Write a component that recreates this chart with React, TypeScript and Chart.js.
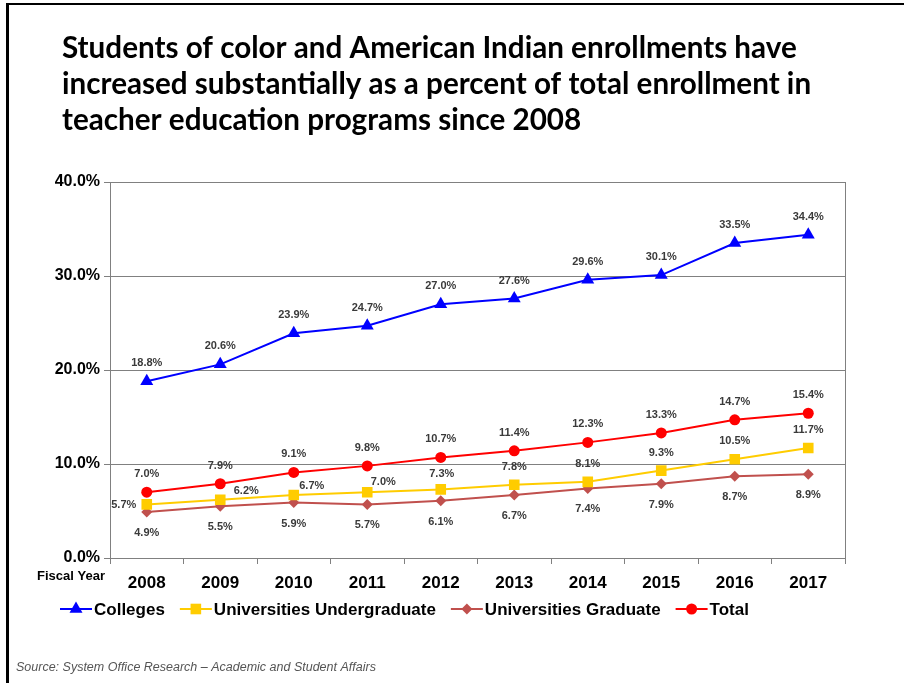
import React, { useEffect, useRef } from "react";
import { Chart, registerables } from "chart.js";

Chart.register(...registerables);

const years = ["2008", "2009", "2010", "2011", "2012", "2013", "2014", "2015", "2016", "2017"];
const colleges = [18.8, 20.6, 23.9, 24.7, 27.0, 27.6, 29.6, 30.1, 33.5, 34.4];
const univUndergrad = [5.7, 6.2, 6.7, 7.0, 7.3, 7.8, 8.1, 9.3, 10.5, 11.7];
const univGrad = [4.9, 5.5, 5.9, 5.7, 6.1, 6.7, 7.4, 7.9, 8.7, 8.9];
const total = [7.0, 7.9, 9.1, 9.8, 10.7, 11.4, 12.3, 13.3, 14.7, 15.4];

const titleLines = [
  "Students of color and American Indian enrollments have",
  "increased substantially as a percent of total enrollment in",
  "teacher education programs since 2008",
];
const sourceText = "Source: System Office Research \u2013 Academic and Student Affairs";
const axisTitle = "Fiscal Year";

// label placement style per series (dx, dy relative to point)
const placeAbove = (n: number) => Array.from({ length: n }, () => [0, -18]);
const placeBelow = (n: number) => Array.from({ length: n }, () => [0, 21]);
const uuPlacement = [[-23, 1], [26, -9], [18, -9], [16, -10], [1, -15], [0, -18], [0, -18], [0, -18], [0, -18], [0, -18]];

const BLUE = "#0000ff";
const YELLOW = "#ffcc00";
const BROWN = "#c0504d";
const RED = "#ff0000";

const LABEL_FONT = 'bold 11px "Liberation Sans", Arial, sans-serif';

function drawMarker(ctx: CanvasRenderingContext2D, style: string, x: number, y: number, r: number) {
  ctx.beginPath();
  if (style === "triangle") {
    ctx.moveTo(x, y - r);
    ctx.lineTo(x + r * 0.866, y + r * 0.5);
    ctx.lineTo(x - r * 0.866, y + r * 0.5);
  } else if (style === "rect") {
    const s = r * Math.SQRT1_2;
    ctx.rect(x - s, y - s, 2 * s, 2 * s);
  } else if (style === "rectRot") {
    ctx.moveTo(x, y - r);
    ctx.lineTo(x + r, y);
    ctx.lineTo(x, y + r);
    ctx.lineTo(x - r, y);
  } else {
    ctx.arc(x, y, r, 0, Math.PI * 2);
  }
  ctx.closePath();
  ctx.fill();
}

const decorPlugin = {
  id: "decor",
  beforeDraw(chart: any) {
    const ctx = chart.ctx;
    ctx.save();
    ctx.fillStyle = "#ffffff";
    ctx.fillRect(0, 0, chart.width, chart.height);
    // frame
    ctx.fillStyle = "#000000";
    ctx.fillRect(6, 3, chart.width - 6, 2);
    ctx.fillRect(6, 3, 3, chart.height - 3);
    // title
    ctx.fillStyle = "#000000";
    ctx.textBaseline = "alphabetic";
    ctx.textAlign = "left";
    let size = 28;
    ctx.font = `bold ${size}px Lato, "Open Sans", sans-serif`;
    const w = ctx.measureText(titleLines[0]).width;
    size = size * 735 / w;
    ctx.font = `bold ${size}px Lato, "Open Sans", sans-serif`;
    titleLines.forEach((t, i) => ctx.fillText(t, 62, 58 + i * 36));
    ctx.restore();
  },
  afterDraw(chart: any) {
    const ctx = chart.ctx;
    const a = chart.chartArea;
    ctx.save();
    // plot frame right side
    ctx.strokeStyle = "#808080";
    ctx.lineWidth = 1;
    ctx.beginPath();
    ctx.moveTo(Math.round(a.right) + 0.5, a.top);
    ctx.lineTo(Math.round(a.right) + 0.5, a.bottom);
    ctx.stroke();

    // data labels
    const placements = [placeAbove(10), uuPlacement, placeBelow(10), placeAbove(10)];
    ctx.font = LABEL_FONT;
    ctx.fillStyle = "#3a3a3a";
    ctx.textAlign = "center";
    ctx.textBaseline = "middle";
    chart.data.datasets.forEach((ds: any, di: number) => {
      const meta = chart.getDatasetMeta(di);
      meta.data.forEach((pt: any, i: number) => {
        const [dx, dy] = placements[di][i];
        ctx.fillText(ds.data[i].toFixed(1) + "%", pt.x + dx, pt.y + dy);
      });
    });

    // Fiscal Year
    ctx.font = 'bold 13px "Liberation Sans", Arial, sans-serif';
    ctx.fillStyle = "#000000";
    ctx.textAlign = "left";
    ctx.fillText(axisTitle, 37, 576);

    // legend
    ctx.font = 'bold 17px "Liberation Sans", Arial, sans-serif';
    let x = 60;
    const ly = 609;
    chart.data.datasets.forEach((ds: any) => {
      ctx.strokeStyle = ds.borderColor;
      ctx.lineWidth = 2;
      ctx.beginPath();
      ctx.moveTo(x, ly);
      ctx.lineTo(x + 32, ly);
      ctx.stroke();
      ctx.fillStyle = ds.pointBackgroundColor;
      drawMarker(ctx, ds.pointStyle, x + 16, ly, ds.pointRadius);
      ctx.fillStyle = "#000000";
      ctx.textBaseline = "middle";
      ctx.fillText(ds.label, x + 34, ly + 1);
      x += 34 + ctx.measureText(ds.label).width + 15;
    });

    // source
    ctx.font = 'italic 12.5px "Liberation Sans", Arial, sans-serif';
    ctx.fillStyle = "#555555";
    ctx.fillText(sourceText, 16, 668);
    ctx.restore();
  },
};

export default function App() {
  const ref = useRef<HTMLCanvasElement>(null);
  useEffect(() => {
    if (!ref.current) return;
    const mk = (label: string, data: number[], color: string, style: string, r: number) => ({
      label,
      data,
      borderColor: color,
      backgroundColor: color,
      pointBackgroundColor: color,
      pointBorderColor: color,
      pointStyle: style,
      pointRadius: r,
      pointBorderWidth: 0,
      borderWidth: 2,
      tension: 0,
    });
    const chart = new Chart(ref.current, {
      type: "line",
      data: {
        labels: years,
        datasets: [
          mk("Colleges", colleges, BLUE, "triangle", 7.5),
          mk("Universities Undergraduate", univUndergrad, YELLOW, "rect", 7.5),
          mk("Universities Graduate", univGrad, BROWN, "rectRot", 5.5),
          mk("Total", total, RED, "circle", 5.5),
        ],
      },
      options: {
        animation: false,
        responsive: false,
        events: [],
        layout: { padding: { left: 0, top: 182, right: 59, bottom: 85 } },
        plugins: { legend: { display: false }, title: { display: false }, tooltip: { enabled: false } },
        scales: {
          x: {
            offset: true,
            grid: { offset: true, drawOnChartArea: false, drawTicks: true, tickLength: 6, color: "#808080" },
            border: { color: "#808080", width: 1 },
            ticks: {
              color: "#000000",
              font: { family: '"Liberation Sans", Arial, sans-serif', size: 17, weight: "bold" },
              padding: 9,
              maxRotation: 0,
            },
            afterFit: (s: any) => { s.height = 40; },
          },
          y: {
            min: 0,
            max: 40,
            grid: { color: "#808080", tickLength: 6, lineWidth: 1 },
            border: { color: "#808080", width: 1 },
            ticks: {
              stepSize: 10,
              color: "#000000",
              padding: 4,
              font: { family: '"Liberation Sans", Arial, sans-serif', size: 16, weight: "bold" },
              callback: (v: any) => Number(v).toFixed(1) + "%",
            },
            afterFit: (s: any) => { s.width = 110; },
          },
        },
      },
      plugins: [decorPlugin],
    } as any);
    return () => chart.destroy();
  }, []);
  return (
    <div style={{ position: "fixed", left: 0, top: 0, width: 904, height: 683, background: "#fff" }}>
      <canvas ref={ref} width={904} height={683} style={{ width: 904, height: 683, display: "block" }} />
    </div>
  );
}
